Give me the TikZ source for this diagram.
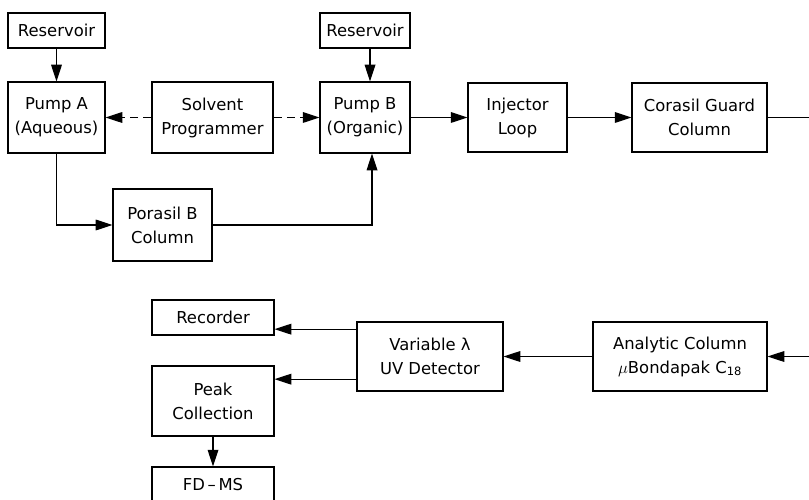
\documentclass[tikz,border=0pt]{standalone}
\usepackage{fontspec}
\setmainfont{DejaVu Sans}
\usepackage{tikz}
\usetikzlibrary{arrows.meta}

\begin{document}
\begin{tikzpicture}[x=0.3mm,y=-0.3mm,>={Triangle[length=5mm,width=3.2mm]},line width=1pt,
  font=\fontsize{14}{20.5}\selectfont,
  blk/.style 2 args={draw,align=center,inner sep=0pt,minimum width=#1*0.3mm,minimum height=#2*0.3mm},
  ctrl/.style={->,dash pattern=on 2.4mm off 1.6mm}]
  \useasboundingbox (0,0) rectangle (809,500);
  \node[blk={97}{35}] (resA) at (56.5,30.5) {Reservoir};
  \node[blk={97}{71}] (pumpA) at (56.5,117.5) {Pump A\\(Aqueous)};
  \node[blk={121}{71}] (solv) at (212.5,117.5) {Solvent\\Programmer};
  \node[blk={90}{71}] (pumpB) at (365,117.5) {Pump B\\(Organic)};
  \node[blk={90}{35}] (resB) at (365,30.5) {Reservoir};
  \node[blk={99}{72}] (porasil) at (162.5,225) {Porasil B\\Column};
  \node[blk={99}{69}] (inj) at (517.5,117.5) {Injector\\Loop};
  \node[blk={135}{69}] (corasil) at (699.5,117.5) {Corasil Guard\\Column};
  \node[blk={174}{69}] (anal) at (680,356.5) {Analytic Column\\$\mu$Bondapak C\textsubscript{18}};
  \node[blk={146}{69}] (uv) at (430,356.5) {Variable λ\\UV Detector};
  \node[blk={122}{35}] (rec) at (213,317.5) {Recorder};
  \node[blk={122}{70}] (peak) at (213,401) {Peak\\Collection};
  \node[blk={122}{35}] (fdms) at (213,484.5) {FD\,--\,MS};
  \coordinate (outT) at (809,117.5);
  \coordinate (inB) at (809,356.5);
  \coordinate (uvA) at ([yshift=8.2mm]uv.west);
  \coordinate (uvB) at ([yshift=-6.8mm]uv.west);
  \draw[->] (resA) -- (pumpA);
  \draw[->] ([xshift=1.5mm]resB.south) -- ([xshift=1.5mm]pumpB.north);
  \draw[ctrl] (solv) -- (pumpA);
  \draw[ctrl] (solv) -- (pumpB);
  \draw[->] (pumpA.south) |- (porasil.west);
  \draw[->] (porasil.east) -| ([xshift=2.1mm]pumpB.south);
  \draw[->] (pumpB) -- (inj);
  \draw[->] (inj) -- (corasil);
  \draw (corasil) -- (outT);
  \draw[->] (inB) -- (anal);
  \draw[->] (anal) -- (uv);
  \draw[->] (uvA) -- (uvA -| rec.east);
  \draw[->] (uvB) -- (uvB -| peak.east);
  \draw[->] (peak) -- (fdms);
\end{tikzpicture}
\end{document}
